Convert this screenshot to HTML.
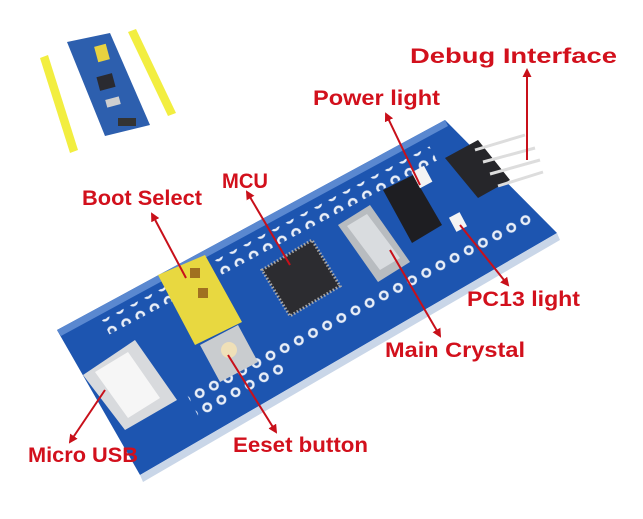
<!DOCTYPE html>
<html><head><meta charset="utf-8"><style>
html,body{margin:0;padding:0;background:#fff;width:643px;height:519px;overflow:hidden}
text{font-family:"Liberation Sans",sans-serif;font-weight:bold;fill:#d2101c}
</style></head><body>
<svg width="643" height="519" viewBox="0 0 643 519" xmlns="http://www.w3.org/2000/svg">
<defs>
<marker id="ah" markerWidth="9" markerHeight="9" refX="7" refY="4.5" orient="auto" markerUnits="userSpaceOnUse"><path d="M0,0 L9,4.5 L0,9 z" fill="#c8101a"/></marker>
<pattern id="holes" width="16" height="16" patternUnits="userSpaceOnUse"><circle cx="8" cy="8" r="5" fill="#e8eef8"/><circle cx="8" cy="8" r="2.5" fill="#2a5aa8"/></pattern>
</defs>
<!-- thumbnail -->
<polygon points="40,58 48,55 78,150 70,153" fill="#f2ee40"/>
<polygon points="128,32 136,29 176,113 168,116" fill="#f2ee40"/>
<polygon points="67,42 110,33 150,125 105,136" fill="#2d5fae"/>
<rect x="98" y="75" width="16" height="14" fill="#2a2a30" transform="rotate(-15 106 82)"/>
<rect x="96" y="45" width="12" height="16" fill="#e8d240" transform="rotate(-15 102 53)"/>
<rect x="106" y="98" width="14" height="8" fill="#cfcfcf" transform="rotate(-15 113 102)"/>
<rect x="118" y="118" width="18" height="8" fill="#333"/>
<!-- main board -->
<polygon points="57,330 445,120 557,233 140,475" fill="#1d55b0"/>
<polygon points="57,330 445,120 448,126 61,336" fill="#5a88d0"/>
<polygon points="140,475 557,233 560,240 143,482" fill="#c9d6e8"/>
<g transform="matrix(0.885,-0.47,0.47,0.885,0,0)">
<rect x="-60" y="330" width="370" height="16" fill="url(#holes)"/>
<rect x="-20" y="432" width="390" height="16" fill="url(#holes)"/>
<rect x="-20" y="448" width="100" height="16" fill="url(#holes)"/>
</g>
<!-- micro usb -->
<polygon points="83,375 135,340 177,400 125,430" fill="#d8dadd"/>
<polygon points="95,372 128,352 160,398 128,418" fill="#f6f6f6"/>
<!-- jumper -->
<polygon points="158,275 205,255 242,322 195,345" fill="#e8d840"/>
<rect x="190" y="268" width="10" height="10" fill="#a07020"/>
<rect x="198" y="288" width="10" height="10" fill="#a07020"/>
<!-- reset button -->
<polygon points="200,345 238,325 258,362 220,382" fill="#c9cccf"/>
<circle cx="229" cy="350" r="8" fill="#efe0b8"/>
<!-- MCU -->
<polygon points="262,270 312,240 340,286 290,316" fill="#2c2c30" stroke="#aaa" stroke-width="3" stroke-dasharray="1.5 2"/>
<!-- crystal -->
<polygon points="338,225 370,205 410,262 378,282" fill="#b8bcc0"/>
<polygon points="347,226 367,214 400,258 380,270" fill="#d9dcdf"/>
<!-- regulator -->
<polygon points="383,190 413,175 442,225 412,243" fill="#1e1e22"/>
<!-- leds -->
<rect x="415" y="168" width="14" height="18" fill="#f4f4f4" transform="rotate(-28 422 177)"/>
<rect x="452" y="214" width="12" height="16" fill="#f4f4f4" transform="rotate(-28 458 222)"/>
<!-- header -->
<polygon points="445,158 478,140 510,180 478,198" fill="#26262a"/>
<line x1="475" y1="150" x2="525" y2="135" stroke="#ddd" stroke-width="3"/>
<line x1="483" y1="162" x2="535" y2="148" stroke="#ddd" stroke-width="3"/>
<line x1="490" y1="174" x2="540" y2="160" stroke="#ddd" stroke-width="3"/>
<line x1="498" y1="186" x2="543" y2="172" stroke="#ddd" stroke-width="3"/>
<!-- arrows -->
<g stroke="#c8101a" stroke-width="2" fill="none" marker-end="url(#ah)">
<line x1="527" y1="160" x2="527" y2="70"/>
<line x1="420" y1="185" x2="386" y2="114"/>
<line x1="290" y1="265" x2="247" y2="192"/>
<line x1="186" y1="278" x2="152" y2="214"/>
<line x1="460" y1="225" x2="508" y2="285"/>
<line x1="390" y1="250" x2="440" y2="336"/>
<line x1="105" y1="390" x2="70" y2="442"/>
<line x1="228" y1="355" x2="276" y2="432"/>
</g>
<!-- labels -->
<text x="410" y="63" font-size="21" textLength="207" lengthAdjust="spacingAndGlyphs">Debug Interface</text>
<text x="313" y="105" font-size="21" textLength="127" lengthAdjust="spacingAndGlyphs">Power light</text>
<text x="222" y="188" font-size="21" textLength="46" lengthAdjust="spacingAndGlyphs">MCU</text>
<text x="82" y="205" font-size="21" textLength="120" lengthAdjust="spacingAndGlyphs">Boot Select</text>
<text x="467" y="306" font-size="21" textLength="113" lengthAdjust="spacingAndGlyphs">PC13 light</text>
<text x="385" y="357" font-size="21" textLength="140" lengthAdjust="spacingAndGlyphs">Main Crystal</text>
<text x="28" y="462" font-size="21" textLength="110" lengthAdjust="spacingAndGlyphs">Micro USB</text>
<text x="233" y="452" font-size="21" textLength="135" lengthAdjust="spacingAndGlyphs">Eeset button</text>
</svg>
</body></html>
